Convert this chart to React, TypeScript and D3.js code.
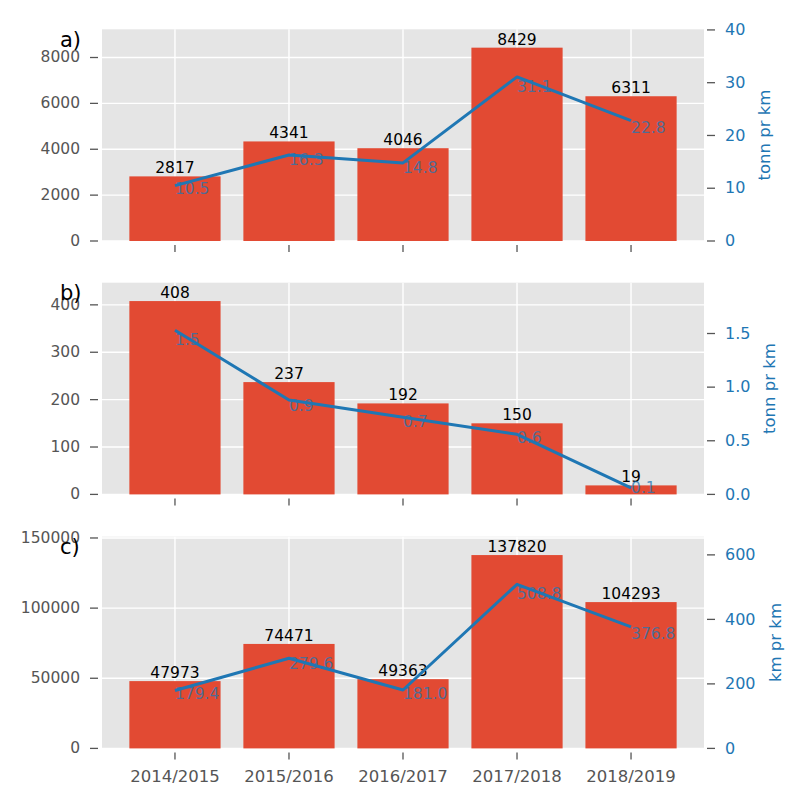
import React from "react";
import * as d3 from "d3";

const categories = ["2014/2015", "2015/2016", "2016/2017", "2017/2018", "2018/2019"];

const barsA = [2817, 4341, 4046, 8429, 6311];
const lineA = [10.5, 16.3, 14.8, 31.1, 22.8];
const barsB = [408, 237, 192, 150, 19];
const lineB = [1.53, 0.88, 0.72, 0.56, 0.06];
const barsC = [47973, 74471, 49363, 137820, 104293];
const lineC = [179.4, 279.6, 181.0, 508.8, 376.8];

const leftTicksA = [0, 2000, 4000, 6000, 8000];
const leftTicksB = [0, 100, 200, 300, 400];
const leftTicksC = [0, 50000, 100000, 150000];
const rightTicksA = [0, 10, 20, 30, 40];
const rightTicksB = [0, 0.5, 1.0, 1.5];
const rightTicksC = [0, 200, 400, 600];

const panelLetters = ["a)", "b)", "c)"];
const rightLabels = ["tonn pr km", "tonn pr km", "km pr km"];

const BAR_COLOR = "#E24A33";
const LINE_COLOR = "#1f77b4";
const BG = "#E5E5E5";
const TICK_COLOR = "#555555";
const FONT = "DejaVu Sans, sans-serif";

const LEFT = 102;
const RIGHT = 704;
const TOPS = [29.3, 282.7, 536.7];
const H = 211.7;

function estWidth(s: string, fs: number) {
  let w = 0;
  for (const c of s) w += c === "." ? 0.318 : 0.636;
  return w * fs;
}

function Panel(props: {
  idx: number;
  bars: number[];
  line: number[];
  leftTicks: number[];
  rightTicks: number[];
  showX: boolean;
}) {
  const { idx, bars, line, leftTicks, rightTicks, showX } = props;
  const top = TOPS[idx];
  const bottom = top + H;
  const x = d3.scaleLinear().domain([-0.64, categories.length - 1 + 0.64]).range([LEFT, RIGHT]);
  const yL = d3.scaleLinear().domain([0, (d3.max(bars) as number) * 1.095]).range([bottom, top]);
  const yR = d3.scaleLinear().domain([0, (d3.max(line) as number) * 1.29]).range([bottom, top]);
  const decimals = rightTicks.some((t) => !Number.isInteger(t));
  const fmtR = (t: number) => (decimals ? t.toFixed(1) : String(t));
  const maxW = d3.max(rightTicks.map((t) => estWidth(fmtR(t), 16))) as number;
  const ylabelX = RIGHT + 21 + maxW + 19.5;
  const lineGen = d3
    .line<number>()
    .x((_, i) => x(i))
    .y((d) => yR(d));

  return (
    <g>
      <rect x={LEFT} y={top} width={RIGHT - LEFT} height={H} fill={BG} />
      {leftTicks.map((t) => (
        <line key={"gh" + t} x1={LEFT} x2={RIGHT} y1={yL(t)} y2={yL(t)} stroke="white" strokeWidth={1.4} />
      ))}
      {categories.map((c, i) => (
        <line key={"gv" + c} x1={x(i)} x2={x(i)} y1={top} y2={bottom} stroke="white" strokeWidth={1.4} />
      ))}
      {bars.map((v, i) => (
        <rect
          key={"b" + i}
          x={x(i - 0.4)}
          width={x(i + 0.4) - x(i - 0.4)}
          y={yL(v)}
          height={yL(0) - yL(v)}
          fill={BAR_COLOR}
        />
      ))}
      {bars.map((v, i) => (
        <text
          key={"bl" + i}
          x={x(i)}
          y={yL(v) - 3}
          textAnchor="middle"
          fontSize={15.5}
          fontFamily={FONT}
          fill="black"
        >
          {v}
        </text>
      ))}
      {/* left ticks */}
      {leftTicks.map((t) => (
        <g key={"lt" + t}>
          <line x1={LEFT - 12} x2={LEFT - 4} y1={yL(t)} y2={yL(t)} stroke={TICK_COLOR} strokeWidth={1.3} />
          <text
            x={LEFT - 22}
            y={yL(t)}
            dy="0.32em"
            textAnchor="end"
            fontSize={15.5}
            fontFamily={FONT}
            fill={TICK_COLOR}
          >
            {t}
          </text>
        </g>
      ))}
      {/* bottom ticks */}
      {categories.map((c, i) => (
        <g key={"bt" + c}>
          <line x1={x(i)} x2={x(i)} y1={bottom + 4} y2={bottom + 11} stroke={TICK_COLOR} strokeWidth={1.3} />
          {showX && (
            <text
              x={x(i)}
              y={bottom + 33.4}
              textAnchor="middle"
              fontSize={16.5}
              fontFamily={FONT}
              fill={TICK_COLOR}
            >
              {c}
            </text>
          )}
        </g>
      ))}
      {/* right ticks */}
      {rightTicks.map((t) => (
        <g key={"rt" + t}>
          <line x1={RIGHT + 3} x2={RIGHT + 11} y1={yR(t)} y2={yR(t)} stroke={TICK_COLOR} strokeWidth={1.3} />
          <text
            x={RIGHT + 21}
            y={yR(t)}
            dy="0.32em"
            textAnchor="start"
            fontSize={16}
            fontFamily={FONT}
            fill={LINE_COLOR}
          >
            {fmtR(t)}
          </text>
        </g>
      ))}
      <text
        transform={`translate(${ylabelX},${(top + bottom) / 2}) rotate(-90)`}
        textAnchor="middle"
        dominantBaseline="central"
        fontSize={16.5}
        fontFamily={FONT}
        fill={LINE_COLOR}
      >
        {rightLabels[idx]}
      </text>
      {/* line */}
      <path d={lineGen(line) || ""} fill="none" stroke={LINE_COLOR} strokeWidth={3} strokeLinejoin="round" />
      {line.map((v, i) => (
        <text
          key={"ll" + i}
          x={x(i)}
          y={yR(v * 0.94)}
          dominantBaseline="central"
          textAnchor="start"
          fontSize={15.5}
          fontFamily={FONT}
          fill={LINE_COLOR}
          fillOpacity={0.75}
        >
          {v.toFixed(1)}
        </text>
      ))}
      <text x={60} y={top + 17.3} fontSize={21} fontFamily={FONT} fill="black">
        {panelLetters[idx]}
      </text>
    </g>
  );
}

export default function App() {
  return (
    <svg
      width={800}
      height={800}
      viewBox="0 0 800 800"
      style={{ position: "absolute", left: 0, top: 0, background: "white" }}
    >
      <rect x={0} y={0} width={800} height={800} fill="white" />
      <Panel idx={0} bars={barsA} line={lineA} leftTicks={leftTicksA} rightTicks={rightTicksA} showX={false} />
      <Panel idx={1} bars={barsB} line={lineB} leftTicks={leftTicksB} rightTicks={rightTicksB} showX={false} />
      <Panel idx={2} bars={barsC} line={lineC} leftTicks={leftTicksC} rightTicks={rightTicksC} showX={true} />
    </svg>
  );
}
